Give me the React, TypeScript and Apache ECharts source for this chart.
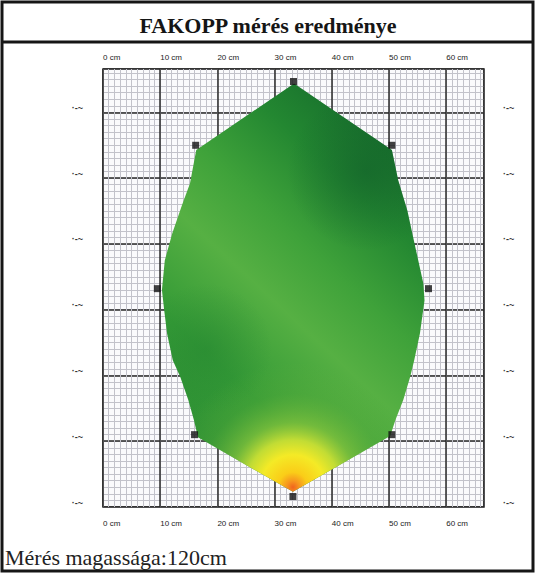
import React, { useEffect, useRef } from 'react';
import * as echarts from 'echarts';

// ---- data (cm) ----
const titleText = 'FAKOPP mérés eredménye';
const footerText = 'Mérés magassága:120cm';
const majorTicks = [0, 10, 20, 30, 40, 50, 60];
const axisMin = 0;
const axisMax = 66.6;
const unitLabel = 'cm';
const sideLabelText = '·-~';

// sensor positions (cm)
const sensorX = [33.3, 50.5, 56.9, 50.5, 33.2, 16.0, 9.5, 16.2];
const sensorY = [64.7, 55.0, 33.2, 11.0, 1.6, 11.0, 33.2, 55.0];

// tomogram outline (cm), clockwise from the top
const boundaryX = [33.4, 50.5, 51.6, 53.2, 54.6, 56.0, 56.2, 55.4, 54.4, 53.7, 52.5, 51.1, 50.2, 33.2,
  16.6, 15.9, 14.9, 13.5, 12.2, 11.2, 10.7, 10.3, 10.8, 12.1, 13.8, 15.2, 16.3];
const boundaryY = [64.4, 54.3, 49.7, 45.1, 39.5, 34.0, 31.4, 26.4, 22.3, 19.8, 16.3, 13.2, 10.8, 2.3,
  10.6, 13.2, 16.3, 19.8, 22.3, 26.4, 29.9, 33.0, 37.5, 41.6, 45.9, 49.2, 54.3];

export default function App() {
  const ref = useRef<HTMLDivElement>(null);

  useEffect(() => {
    if (!ref.current) return;
    const chart = echarts.init(ref.current, undefined, { renderer: 'svg' });

    const majorFmt = (v: number) => (majorTicks.includes(v) ? `${v} ${unitLabel}` : '');
    const sideFmt = (v: number) => (majorTicks.includes(v) ? sideLabelText : '');

    const labelStyle = { fontFamily: 'Liberation Sans', fontSize: 8, color: '#1a1a1a' };

    const renderOutline = (params: any, api: any) => {
      const pts = boundaryX.map((x, i) => api.coord([x, boundaryY[i]]));
      const g0 = api.coord([11.7, 13.2]);
      const g1 = api.coord([55.4, 54.2]);
      const tip = api.coord([33.2, 3.0]);
      const tipR = Math.abs(api.coord([33.2, 22])[1] - tip[1]);
      const dark = api.coord([46, 51]);
      const darkR = Math.abs(api.coord([46, 63])[1] - dark[1]);
      const leftC = api.coord([18, 24]);
      const leftR = Math.abs(api.coord([18, 34])[1] - leftC[1]);
      return {
        type: 'group',
        children: [
          {
            type: 'polygon',
            shape: { points: pts },
            style: {
              fill: new echarts.graphic.LinearGradient(g0[0], g0[1], g1[0], g1[1], [
                { offset: 0, color: '#2f9134' },
                { offset: 0.2, color: '#349a36' },
                { offset: 0.43, color: '#56b043' },
                { offset: 0.6, color: '#3fa23a' },
                { offset: 0.8, color: '#238731' },
                { offset: 1, color: '#166c2c' },
              ], true),
            },
          },
          {
            type: 'polygon',
            shape: { points: pts },
            style: {
              fill: new echarts.graphic.RadialGradient(dark[0], dark[1], darkR, [
                { offset: 0, color: 'rgba(18,96,42,0.6)' },
                { offset: 1, color: 'rgba(18,96,42,0)' },
              ], true),
            },
          },
          {
            type: 'polygon',
            shape: { points: pts },
            style: {
              fill: new echarts.graphic.RadialGradient(leftC[0], leftC[1], leftR, [
                { offset: 0, color: 'rgba(34,130,48,0.45)' },
                { offset: 1, color: 'rgba(34,130,48,0)' },
              ], true),
            },
          },
          {
            type: 'polygon',
            shape: { points: pts },
            style: {
              fill: new echarts.graphic.RadialGradient(tip[0], tip[1], tipR, [
                { offset: 0, color: 'rgba(240,100,30,1)' },
                { offset: 0.05, color: 'rgba(246,150,30,1)' },
                { offset: 0.12, color: 'rgba(250,205,24,1)' },
                { offset: 0.26, color: 'rgba(244,234,38,1)' },
                { offset: 0.38, color: 'rgba(206,226,52,0.92)' },
                { offset: 0.52, color: 'rgba(150,205,62,0.6)' },
                { offset: 0.75, color: 'rgba(110,185,60,0.2)' },
                { offset: 1, color: 'rgba(110,185,60,0)' },
              ], true),
            },
          },
        ],
      };
    };

    chart.setOption({
      animation: false,
      backgroundColor: '#ffffff',
      title: [
        {
          text: titleText,
          left: 'center',
          top: 9,
          textStyle: { fontFamily: 'Liberation Serif', fontWeight: 'bold', fontSize: 22, color: '#151515' },
        },
        {
          text: footerText,
          left: 0,
          top: 541,
          textStyle: { fontFamily: 'Liberation Serif', fontWeight: 'normal', fontSize: 22, color: '#222' },
        },
      ],
      grid: {
        left: 103, right: 52, top: 69, bottom: 67,
        show: true, backgroundColor: '#fafafc', borderColor: '#222', borderWidth: 1.5,
      },
      graphic: [
        { type: 'rect', shape: { x: 2, y: 2, width: 531, height: 569 }, style: { fill: 'none', stroke: '#161616', lineWidth: 3 }, z: 100 },
        { type: 'line', shape: { x1: 2, y1: 42, x2: 533, y2: 42 }, style: { stroke: '#161616', lineWidth: 3 }, z: 100 },
      ],
      xAxis: [
        {
          type: 'value', min: axisMin, max: axisMax, interval: 1, position: 'bottom',
          axisLine: { show: false }, axisTick: { show: false }, axisLabel: { show: false },
          splitLine: { show: true, lineStyle: { color: '#c2c2ca', width: 1 } },
        },
        {
          type: 'value', min: axisMin, max: axisMax, interval: 10, position: 'bottom',
          axisLine: { show: false }, axisTick: { show: false },
          axisLabel: { ...labelStyle, formatter: majorFmt, align: 'left', margin: 12, showMaxLabel: false },
          splitLine: { show: true, lineStyle: { color: '#2a2a2a', width: 1.5 } },
        },
        {
          type: 'value', min: axisMin, max: axisMax, interval: 10, position: 'top',
          axisLine: { show: false }, axisTick: { show: false },
          axisLabel: { ...labelStyle, formatter: majorFmt, align: 'left', margin: 8, showMaxLabel: false },
          splitLine: { show: false },
        },
      ],
      yAxis: [
        {
          type: 'value', min: axisMin, max: axisMax, interval: 1, position: 'left',
          axisLine: { show: false }, axisTick: { show: false }, axisLabel: { show: false },
          splitLine: { show: true, lineStyle: { color: '#c2c2ca', width: 1 } },
        },
        {
          type: 'value', min: axisMin, max: axisMax, interval: 10, position: 'left',
          axisLine: { show: false }, axisTick: { show: false },
          axisLabel: { fontFamily: 'Liberation Sans', fontSize: 9, fontWeight: 'bold', color: '#333', formatter: sideFmt, margin: 20, verticalAlign: 'bottom', showMaxLabel: false },
          splitLine: { show: true, lineStyle: { color: '#2a2a2a', width: 1.5 } },
        },
        {
          type: 'value', min: axisMin, max: axisMax, interval: 10, position: 'right',
          axisLine: { show: false }, axisTick: { show: false },
          axisLabel: { fontFamily: 'Liberation Sans', fontSize: 9, fontWeight: 'bold', color: '#333', formatter: sideFmt, margin: 19, verticalAlign: 'bottom', showMaxLabel: false },
          splitLine: { show: false },
        },
      ],
      series: [
        {
          type: 'custom',
          xAxisIndex: 1,
          yAxisIndex: 1,
          silent: true,
          z: 3,
          renderItem: renderOutline,
          data: [[33, 33]],
        },
        {
          type: 'scatter',
          xAxisIndex: 1,
          yAxisIndex: 1,
          silent: true,
          z: 5,
          symbol: 'rect',
          symbolSize: 7,
          itemStyle: { color: '#111' },
          data: sensorX.map((x, i) => [x, sensorY[i]]),
        },
      ],
    });

    return () => chart.dispose();
  }, []);

  return (
    <div
      ref={ref}
      style={{ position: 'absolute', left: 0, top: 0, width: 536, height: 574 }}
    />
  );
}
